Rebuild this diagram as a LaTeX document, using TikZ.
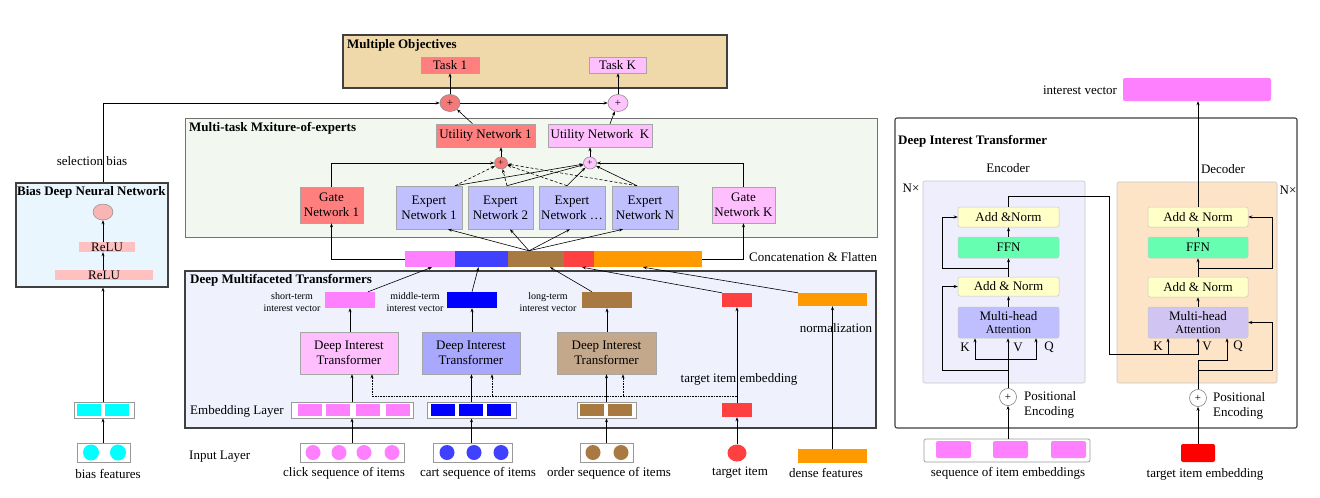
\documentclass[tikz,border=0pt]{standalone}
\usepackage{fontspec}
\setmainfont{Liberation Serif}
\usetikzlibrary{arrows.meta,shapes.geometric}

\definecolor{redA}{HTML}{FF7F7F}
\definecolor{pinkA}{HTML}{FFBFFF}
\definecolor{plusA}{HTML}{F47A7A}
\definecolor{plusB}{HTML}{FFC4FF}
\definecolor{expertC}{HTML}{C0C0FF}
\definecolor{objBg}{HTML}{EFD9AB}
\definecolor{moeBg}{HTML}{F2F7EF}
\definecolor{dmtBg}{HTML}{EFF1FD}
\definecolor{biasBg}{HTML}{EAF6FE}
\definecolor{reluC}{HTML}{FFC0C0}
\definecolor{outC}{HTML}{F9B4B4}
\definecolor{cyanC}{HTML}{00FFFF}
\definecolor{segPink}{HTML}{FF80FF}
\definecolor{segBlue}{HTML}{4040FF}
\definecolor{segBrown}{HTML}{A97942}
\definecolor{segRed}{HTML}{FF4040}
\definecolor{segOrange}{HTML}{FF9900}
\definecolor{pureBlue}{HTML}{0000FF}
\definecolor{pureRed}{HTML}{FF0000}
\definecolor{ditBlue}{HTML}{A8A8FF}
\definecolor{ditBrown}{HTML}{C4A88C}
\definecolor{normY}{HTML}{FFFFC8}
\definecolor{ffnG}{HTML}{66FFB2}
\definecolor{attE}{HTML}{BFBFFF}
\definecolor{attD}{HTML}{D0C4F2}
\definecolor{encBg}{HTML}{EEEEFC}
\definecolor{decBg}{HTML}{FDE4C6}
\definecolor{frameC}{HTML}{404040}

% box given by its corners: name, style, x1, y1, x2, y2, text
\newcommand\bxn[7]{\node[#2,inner sep=0pt,minimum width={(#5)-(#3)},minimum height={(#6)-(#4)}] (#1) at ({((#3)+(#5))/2},{((#4)+(#6))/2}) {#7};}

\tikzset{
  frame/.style={draw=frameC,line width=1.1pt},
  lframe/.style={draw=black!55,line width=0.9pt},
  cell/.style={draw=black!40,line width=0.7pt,fill=white},
  blk/.style={draw=black!35,line width=0.6pt,align=center},
  sub/.style={draw=black!22,line width=0.5pt,rounded corners=2pt,align=center},
  arr/.style={-{Stealth[length=4pt,width=3pt]},line width=0.6pt},
  ttl/.style={font=\bfseries\fontsize{13}{15}\selectfont,anchor=west,inner sep=0pt},
  lbl/.style={inner sep=0pt,align=center},
  small/.style={font=\fontsize{10}{12}\selectfont},
  plus/.style={ellipse,draw=black!45,line width=0.6pt,inner sep=0pt,font=\fontsize{11}{11}\selectfont},
  splus/.style={plus,minimum width=13,minimum height=12,font=\fontsize{9}{9}\selectfont},
  dot/.style={circle,inner sep=0pt,minimum size=15,draw=none},
}

\begin{document}
\begin{tikzpicture}[x=1pt,y=-1pt,font=\fontsize{13}{15}\selectfont]
\fill[white] (0,0) rectangle (1320,498);
\useasboundingbox (0,0) rectangle (1320,498);

% ---------- Bias deep neural network
\bxn{bdnn}{frame,fill=biasBg}{16}{183}{168}{287}{}
\node[ttl] (bdnnT) at (17,192) {Bias Deep Neural Network};
\node[ellipse,draw=black!50,fill=outC,minimum width=20,minimum height=16,inner sep=0pt] (bout) at (103,212) {};
\bxn{relu1}{fill=reluC}{79}{242}{135}{252}{ReLU}
\bxn{relu2}{fill=reluC}{55}{270}{153}{280}{ReLU}
\draw[arr] (bout.south |- relu2.north) -- (bout.south |- relu1.south);
\draw[arr] (bout.south |- relu1.north) -- (bout.south);

\bxn{bemb}{cell}{74}{402}{134}{418}{}
\bxn{bemb1}{fill=cyanC}{77}{404}{101}{416}{}
\bxn{bemb2}{fill=cyanC}{105}{404}{129}{416}{}
\bxn{bfeat}{cell}{77}{443}{130}{462}{}
\node[dot,fill=cyanC,minimum size=16] (bf1) at (91,452.5) {};
\node[dot,fill=cyanC,minimum size=16] (bf2) at (118,452.5) {};
\node[lbl] (bfL) at (108,474) {bias features};
\draw[arr] (bout.south |- bfeat.north) -- (bout.south |- bemb.south);
\draw[arr] (bout.south |- bemb.north) -- (bout.south |- bdnn.south);
\node[lbl] (selL) at (92,161) {selection bias};

% ---------- Multiple objectives
\bxn{obj}{frame,fill=objBg}{343}{35}{727}{88}{}
\node[ttl] (objT) at (347,45) {Multiple Objectives};
\bxn{task1}{blk,fill=redA}{421}{57}{479}{73}{Task 1}
\bxn{taskK}{blk,fill=pinkA}{589}{57}{646}{73}{Task K}
\node[plus,fill=plusA,minimum width=20,minimum height=17] (p1) at (450,103) {+};
\node[plus,fill=plusB,minimum width=20,minimum height=17] (pK) at (618,103) {+};
\draw[arr] (bout.south |- bdnn.north) |- (p1.west);
\draw[arr] (p1.east) -- (pK.west);
\draw[arr] (p1.north) -- (p1.north |- task1.south);
\draw[arr] (pK.north) -- (pK.north |- taskK.south);

% ---------- Multi-task mixture of experts
\bxn{moe}{lframe,fill=moeBg}{185}{118}{877}{237}{}
\node[ttl] (moeT) at (189,128) {Multi-task Mxiture-of-experts};
\bxn{u1}{blk,fill=redA}{436}{124}{535}{147}{Utility Network 1}
\bxn{uK}{blk,fill=pinkA}{548}{124}{652}{147}{Utility Network~~K}
\draw[arr] ([xshift=-13pt]u1.north) -- (p1);
\draw[arr] ([xshift=10pt]uK.north) -- (pK);
\node[splus,fill=plusA] (pa) at (501,163) {+};
\node[splus,fill=plusB] (pb) at (590,163) {+};
\draw[arr] (pa.north) -- (pa.north |- u1.south);
\draw[arr] (pb.north) -- (pb.north |- uK.south);
\bxn{g1}{blk,fill=redA}{300}{187}{363}{223}{Gate\\Network 1}
\bxn{gK}{blk,fill=pinkA}{712}{187}{775}{223}{Gate\\Network K}
\draw[arr] (g1.north) |- (pa.west);
\draw[arr] (gK.north) |- (pb.east);
\bxn{e1}{blk,fill=expertC}{396}{186}{462}{229}{Expert\\Network 1}
\bxn{e2}{blk,fill=expertC}{468}{186}{533}{229}{Expert\\Network 2}
\bxn{e3}{blk,fill=expertC}{539}{186}{605}{229}{Expert\\Network …}
\bxn{eN}{blk,fill=expertC}{612}{186}{678}{229}{Expert\\Network N}
\coordinate (e1o) at ([xshift=26pt]e1.north);
\coordinate (e2o) at ([xshift=6.5pt]e2.north);
\coordinate (e3o) at ([xshift=-5pt]e3.north);
\coordinate (eNo) at ([xshift=-8pt]eN.north);
\foreach \e in {e1o,e2o,e3o,eNo}{
  \draw[arr,dash pattern=on 3pt off 2pt] (\e) -- (pa);
  \draw[arr] (\e) -- (pb);
}

% ---------- Concatenated feature vector
\bxn{c1}{fill=segPink}{405}{251}{455}{267}{}
\bxn{c2}{fill=segBlue}{455}{251}{508}{267}{}
\bxn{c3}{fill=segBrown}{508}{251}{564}{267}{}
\bxn{c4}{fill=segRed}{564}{251}{594}{267}{}
\bxn{c5}{fill=segOrange}{594}{251}{702}{267}{}
\coordinate (cx) at ([xshift=-7pt]c3.north);
\draw[arr] (cx) -- ([xshift=19pt]e1.south);
\draw[arr] (cx) -- ([xshift=9.5pt]e2.south);
\draw[arr] (cx) -- ([xshift=-2pt]e3.south);
\draw[arr] (cx) -- ([xshift=-22pt]eN.south);
\draw[arr] (c1.west) -| (g1.south);
\draw[arr] (c5.east) -| (gK.south);
\node[lbl,anchor=west] (catL) at (749,257) {Concatenation \& Flatten};

% ---------- Deep multifaceted transformers
\bxn{dmt}{frame,fill=dmtBg}{185}{271}{876}{428}{}
\node[ttl] (dmtT) at (190,280) {Deep Multifaceted Transformers};
\bxn{vs}{fill=segPink}{325}{292}{375}{308}{}
\bxn{vm}{fill=pureBlue}{447}{292}{497}{308}{}
\bxn{vl}{fill=segBrown}{582}{292}{632}{308}{}
\bxn{vt}{fill=segRed}{722}{293}{752}{307}{}
\bxn{vd}{fill=segOrange}{798}{293}{867}{306}{}
\node[lbl,small] (vsL) at (292,302) {short-term\\interest vector};
\node[lbl,small] (vmL) at (415,302) {middle-term\\interest vector};
\node[lbl,small] (vlL) at (548,302) {long-term\\interest vector};
\node[lbl] (normL) at (836,328) {normalization};
\draw[arr] ([xshift=18pt]vs.north) -- ([xshift=2pt]c1.south);
\draw[arr] (vm.north) -- ([xshift=-3pt]c2.south);
\draw[arr] ([xshift=-15pt]vl.north) -- ([xshift=14pt]c3.south);
\draw[arr] (vt.north west) -- ([xshift=3pt]c4.south);
\draw[arr] (vd.north west) -- ([xshift=-5pt]c5.south);

\bxn{d1}{blk,fill=pinkA}{300}{332}{398}{374}{Deep Interest\\Transformer}
\bxn{d2}{blk,fill=ditBlue}{422}{332}{520}{374}{Deep Interest\\Transformer}
\bxn{d3}{blk,fill=ditBrown}{557}{332}{656}{374}{Deep Interest\\Transformer}
\draw[arr] (vs.south |- d1.north) -- (vs.south);
\draw[arr] (vm.south |- d2.north) -- (vm.south);
\draw[arr] (vl.south |- d3.north) -- (vl.south);

\node[lbl,anchor=west] (embL) at (190,411) {Embedding Layer};
\bxn{ep}{cell}{291}{402}{413}{418}{}
\bxn{ep1}{fill=segPink}{298}{404}{322}{416}{}
\bxn{ep2}{fill=segPink}{326}{404}{350}{416}{}
\bxn{ep3}{fill=segPink}{356}{404}{380}{416}{}
\bxn{ep4}{fill=segPink}{386}{404}{410}{416}{}
\bxn{eb}{cell}{427}{402}{516}{418}{}
\bxn{eb1}{fill=pureBlue}{431}{404}{455}{416}{}
\bxn{eb2}{fill=pureBlue}{459}{404}{483}{416}{}
\bxn{eb3}{fill=pureBlue}{487}{404}{511}{416}{}
\bxn{eo}{cell}{577}{402}{636}{418}{}
\bxn{eo1}{fill=segBrown}{580}{404}{604}{416}{}
\bxn{eo2}{fill=segBrown}{608}{404}{632}{416}{}
\bxn{et}{fill=segRed}{722}{403}{752}{417}{}
\draw[arr] (ep.north) -- (ep.north |- d1.south);
\draw[arr] (eb.north) -- (eb.north |- d2.south);
\draw[arr] (eo.north) -- (eo.north |- d3.south);

% target embedding shared by the three transformers
\coordinate (tj) at (737,396);
\coordinate (d1in) at ([xshift=23pt]d1.south);
\coordinate (d2in) at ([xshift=21pt]d2.south);
\coordinate (d3in) at ([xshift=16.5pt]d3.south);
\draw[arr,densely dotted,line width=0.9pt] (tj) -| (d1in);
\draw[arr,densely dotted,line width=0.9pt] (d2in |- tj) -- (d2in);
\draw[arr,densely dotted,line width=0.9pt] (d3in |- tj) -- (d3in);
\node[lbl] (teL) at (739,379) {target item embedding};
\draw[arr] (et.north) -- (vt.south);

% ---------- Input layer
\node[lbl,anchor=west] (inL) at (189,457) {Input Layer};
\bxn{ip}{cell}{300}{443}{404}{462}{}
\node[dot,fill=segPink] (ip1) at (313,452.5) {};
\node[dot,fill=segPink] (ip2) at (339,452.5) {};
\node[dot,fill=segPink] (ip3) at (364,452.5) {};
\node[dot,fill=segPink] (ip4) at (392,452.5) {};
\bxn{ib}{cell}{433}{443}{512}{462}{}
\node[dot,fill=segBlue] (ib1) at (447,452.5) {};
\node[dot,fill=segBlue] (ib2) at (474,452.5) {};
\node[dot,fill=segBlue] (ib3) at (501,452.5) {};
\bxn{io}{cell}{580}{443}{633}{462}{}
\node[dot,fill=segBrown] (io1) at (593,452.5) {};
\node[dot,fill=segBrown] (io2) at (621,452.5) {};
\node[ellipse,fill=segRed,inner sep=0pt,minimum width=19,minimum height=17] (ti) at (737,453) {};
\bxn{df}{fill=segOrange}{798}{449}{867}{463}{}
\draw[arr] (ep.north |- ip.north) -- (ep.south);
\draw[arr] (eb.south |- ib.north) -- (eb.south);
\draw[arr] (eo.south |- io.north) -- (eo.south);
\draw[arr] (ti.north) -- (et.south);
\draw[arr] (df.north) -- (vd.south);
\node[lbl] (ipL) at (344,473) {click sequence of items};
\node[lbl] (ibL) at (478,473) {cart sequence of items};
\node[lbl] (ioL) at (609,473) {order sequence of items};
\node[lbl] (tiL) at (740,473) {target item};
\node[lbl] (dfL) at (826,473) {dense features};

% ---------- Deep interest transformer (detail)
\bxn{dit}{frame,rounded corners=2pt}{895}{118}{1297}{428}{}
\node[ttl] (ditT) at (898,141) {Deep Interest Transformer};
\node[lbl] (encL) at (1008,168) {Encoder};
\node[lbl] (decL) at (1223,169) {Decoder};
\node[lbl] (nEnc) at (911,188) {N×};
\node[lbl] (nDec) at (1288,190) {N×};
\bxn{enc}{draw=black!22,line width=0.6pt,fill=encBg,rounded corners=2pt}{923}{181}{1085}{383}{}
\bxn{dec}{draw=black!22,line width=0.6pt,fill=decBg,rounded corners=2pt}{1117}{182}{1277}{383}{}

% encoder layer
\bxn{an1}{sub,fill=normY}{958}{207}{1059}{227}{Add \&Norm}
\bxn{ffn1}{sub,fill=ffnG}{958}{237}{1059}{258}{FFN}
\bxn{an2}{sub,fill=normY}{958}{277}{1059}{296}{Add \& Norm}
\bxn{mha1}{sub,fill=attE}{958}{307}{1059}{338}{Multi-head\\[-2pt]{\fontsize{12}{13}\selectfont Attention}}
\node[lbl] (kE) at (965,347) {K};
\node[lbl] (vE) at (1018,347) {V};
\node[lbl] (qE) at (1049,347) {Q};
\node[circle,draw=black!50,fill=white,line width=0.6pt,inner sep=0pt,minimum size=17,font=\fontsize{11}{11}\selectfont] (pe) at (1008,397) {+};
\node[lbl,anchor=west,align=left] (peL) at (1024,405) {Positional\\Encoding};
\bxn{seq}{cell,draw=black!40,rounded corners=2pt}{924}{439}{1090}{462}{}
\bxn{seq1}{fill=segPink,rounded corners=2pt}{936}{441}{971}{458}{}
\bxn{seq2}{fill=segPink,rounded corners=2pt}{993}{441}{1028}{458}{}
\bxn{seq3}{fill=segPink,rounded corners=2pt}{1051}{441}{1086}{458}{}
\node[lbl] (seqL) at (1008,473) {sequence of item embeddings};

\draw[arr] (pe.south |- seq.north) -- (pe.south);
\draw[arr] (pe.north) -- (pe.north |- mha1.south);
\coordinate (ekx) at ([xshift=-33.5pt]mha1.south);
\coordinate (eqx) at ([xshift=27.5pt]mha1.south);
\coordinate (ebr) at (1008,359);
\draw[arr] (ebr) -| (ekx);
\draw[arr] (ebr) -| (eqx);
\coordinate (er1) at (1008,370);
\draw[arr] (er1) -- ++(-66,0) |- (an2.west);
\draw[arr] (mha1.north) -- (an2.south);
\draw[arr] (an2.north) -- (ffn1.south);
\coordinate (er2) at (1008,268);
\draw[arr] (er2) -- ++(-66,0) |- (an1.west);
\draw[arr] (ffn1.north) -- (an1.south);

% decoder layer
\bxn{an3}{sub,fill=normY}{1148}{207}{1248}{227}{Add \& Norm}
\bxn{ffn2}{sub,fill=ffnG}{1148}{237}{1248}{258}{FFN}
\bxn{an4}{sub,fill=normY}{1148}{277}{1248}{297}{Add \& Norm}
\bxn{mha2}{sub,fill=attD}{1148}{307}{1248}{338}{Multi-head\\[-2pt]{\fontsize{12}{13}\selectfont Attention}}
\node[lbl] (kD) at (1158,346) {K};
\node[lbl] (vD) at (1207,346) {V};
\node[lbl] (qD) at (1238,346) {Q};
\node[circle,draw=black!50,fill=white,line width=0.6pt,inner sep=0pt,minimum size=17,font=\fontsize{11}{11}\selectfont] (pd) at (1198,398) {+};
\node[lbl,anchor=west,align=left] (pdL) at (1213,406) {Positional\\Encoding};
\bxn{tie}{fill=pureRed,rounded corners=2pt}{1181}{444}{1215}{462}{}
\node[lbl] (tieL) at (1205,474) {target item embedding};
\bxn{iv}{fill=segPink,rounded corners=2pt}{1123}{78}{1271}{101}{}
\node[lbl] (ivL) at (1080,90) {interest vector};

\draw[arr] (pd.south |- tie.north) -- (pd.south);
\coordinate (eo1) at (1109,196);
\coordinate (eo2) at (1109,354);
\draw[arr] (an1.north) |- (eo1) -- (eo2) -| (mha2.south);
\coordinate (dkx) at ([xshift=-30pt]mha2.south);
\coordinate (dqx) at ([xshift=29pt]mha2.south);
\draw[arr] (dkx |- eo2) -- (dkx);
\coordinate (dq) at (1198,360);
\draw[arr] (pd.north) -- (dq) -| (dqx);
\coordinate (dr1) at (1198,370);
\draw[arr] (dr1) -- ++(74,0) |- (mha2.east);
\draw[arr] (mha2.north) -- (an4.south);
\draw[arr] (an4.north) -- (ffn2.south);
\coordinate (dr2) at (1198,268);
\draw[arr] (dr2) -- ++(74,0) |- (an3.east);
\draw[arr] (ffn2.north) -- (an3.south);
\draw[arr] (an3.north) -- (an3.north |- iv.south);
\end{tikzpicture}
\end{document}
